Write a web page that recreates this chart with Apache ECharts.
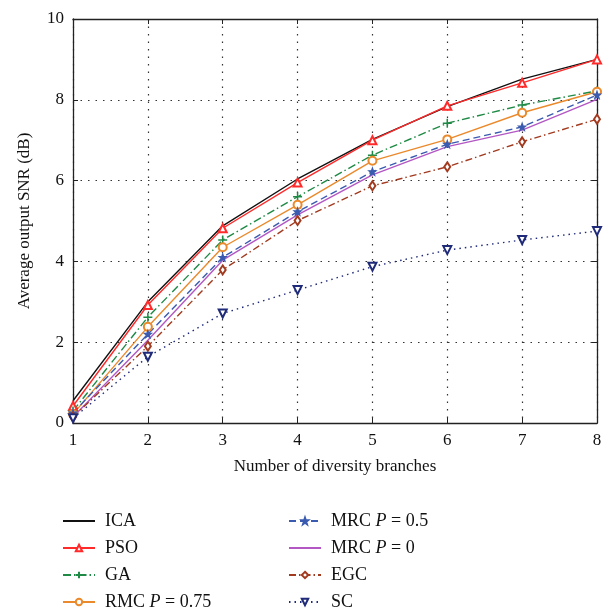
<!DOCTYPE html>
<html>
<head>
<meta charset="utf-8">
<script src="https://cdn.jsdelivr.net/npm/echarts@6/dist/echarts.min.js"></script>
<style>
  html, body { margin: 0; padding: 0; background: #fff; }
  #chart { width: 609px; height: 610px; }
</style>
</head>
<body>
<div id="chart"></div>
<script>
// number of diversity branches
const branches = [1, 2, 3, 4, 5, 6, 7, 8]
// average output SNR (dB)
const ica = [0.55, 3.0, 4.88, 6.04, 7.02, 7.83, 8.51, 9.0]
const pso = [0.42, 2.92, 4.82, 5.95, 7.0, 7.85, 8.42, 9.0]
const ga = [0.3, 2.62, 4.53, 5.6, 6.63, 7.42, 7.87, 8.22]
const rmc = [0.22, 2.38, 4.35, 5.4, 6.49, 7.02, 7.68, 8.2]
const mrc05 = [0.25, 2.2, 4.1, 5.23, 6.22, 6.9, 7.33, 8.12]
const mrc0 = [0.15, 2.05, 4.03, 5.15, 6.14, 6.84, 7.25, 8.01]
const egc = [0.15, 1.9, 3.79, 5.01, 5.87, 6.34, 6.96, 7.52]
const sc = [0.12, 1.64, 2.71, 3.29, 3.87, 4.28, 4.53, 4.75]
const yTicks = [0, 2, 4, 6, 8, 10]

const serif = '"Liberation Serif", "DejaVu Serif", serif'
const pairs = (ys) => branches.map((x, i) => [x, ys[i]])

// marker shapes
const plusPath = 'path://M0,5L10,5M5,0L5,10'
const starPath = 'path://M5,0L6.2,3.5L10,3.6L7,5.9L8.1,9.5L5,7.4L1.9,9.5L3,5.9L0,3.6L3.8,3.5Z'

function line(name, data, color, type, symbol, size, extra) {
  return Object.assign({
    name: name,
    type: 'line',
    data: pairs(data),
    symbol: symbol || 'circle',
    symbolSize: size || 8,
    showSymbol: !!symbol,
    color: color,
    lineStyle: { color: color, width: 1.4, type: type || 'solid' },
    itemStyle: { color: color, borderColor: color, borderWidth: 1.3, opacity: symbol ? 1 : 0 },
    animation: false,
    z: 3,
  }, extra || {})
}

const series = [
  line('ICA', ica, '#111111', 'solid', null),
  line('PSO', pso, '#ff2a2a', 'solid', 'emptyTriangle', 8),
  line('GA', ga, '#1f8a45', [8, 3, 1.5, 3], plusPath, 9, { itemStyle: { color: 'none', borderColor: '#1f8a45', borderWidth: 1.5 } }),
  line('RMC P = 0.75', rmc, '#ea8a2c', 'solid', 'emptyCircle', 8),
  line('MRC P = 0.5', mrc05, '#3a5bb0', [7, 4], starPath, 7),
  line('MRC P = 0', mrc0, '#b257c4', 'solid', null),
  line('EGC', egc, '#a23a1f', [7, 3, 1.5, 3], 'emptyDiamond', [6, 9]),
  line('SC', sc, '#1f2a78', [1.5, 4], 'emptyTriangle', 8, { symbolRotate: 180 }),
]

const legendText = {
  fontFamily: serif,
  fontSize: 18,
  color: '#111',
  padding: [0, 0, 0, 5],
  rich: {
    i: { fontFamily: serif, fontSize: 18, fontStyle: 'italic', color: '#111' },
  },
}
const legendFmt = (name) => name.replace(' P ', ' {i|P} ')

const legendBase = {
  orient: 'vertical', top: 512, height: 140, padding: 0,
  itemWidth: 32, itemHeight: 8, itemGap: 9,
  textStyle: legendText, formatter: legendFmt,
}

const option = {
  backgroundColor: '#fff',
  textStyle: { fontFamily: serif },
  grid: { left: 73, right: 12, top: 19, height: 404 },
  legend: [
    Object.assign({ data: ['ICA', 'PSO', 'GA', 'RMC P = 0.75'], left: 62 }, legendBase),
    Object.assign({ data: ['MRC P = 0.5', 'MRC P = 0', 'EGC', 'SC'], left: 288 }, legendBase),
  ],
  xAxis: [
    {
      type: 'value', min: 1, max: 8, interval: 1,
      name: 'Number of diversity branches', nameLocation: 'middle', nameGap: 35,
      nameTextStyle: { fontFamily: serif, fontSize: 17, color: '#111' },
      axisLine: { lineStyle: { color: '#222', width: 1.3 } },
      axisTick: { inside: true, length: 5, lineStyle: { color: '#222' } },
      axisLabel: { fontFamily: serif, fontSize: 17, color: '#111', margin: 9 },
      splitLine: { show: true, lineStyle: { color: '#333', type: [1.5, 6], width: 1.2 } },
    },
    {
      type: 'value', min: 1, max: 8, interval: 1, position: 'top',
      axisLine: { show: true, onZero: false, lineStyle: { color: '#222', width: 1.3 } },
      axisTick: { show: true, inside: true, length: 5, lineStyle: { color: '#222' } },
      axisLabel: { show: false }, splitLine: { show: false },
    },
  ],
  yAxis: [
    {
      type: 'value', min: yTicks[0], max: yTicks[yTicks.length - 1], interval: 2,
      name: 'Average output SNR (dB)', nameLocation: 'middle', nameGap: 40,
      nameTextStyle: { fontFamily: serif, fontSize: 17, color: '#111' },
      axisLine: { show: true, lineStyle: { color: '#222', width: 1.3 } },
      axisTick: { show: true, inside: true, length: 5, lineStyle: { color: '#222' } },
      axisLabel: { fontFamily: serif, fontSize: 17, color: '#111', margin: 9 },
      splitLine: { show: true, lineStyle: { color: '#333', type: [1.5, 6], width: 1.2 } },
    },
    {
      type: 'value', min: yTicks[0], max: yTicks[yTicks.length - 1], interval: 2, position: 'right',
      axisLine: { show: true, onZero: false, lineStyle: { color: '#222', width: 1.3 } },
      axisTick: { show: true, inside: true, length: 5, lineStyle: { color: '#222' } },
      axisLabel: { show: false }, splitLine: { show: false },
    },
  ],
  series: series,
}

const chart = echarts.init(document.getElementById('chart'), null, { renderer: 'canvas' })
chart.setOption(option)
</script>
</body>
</html>
